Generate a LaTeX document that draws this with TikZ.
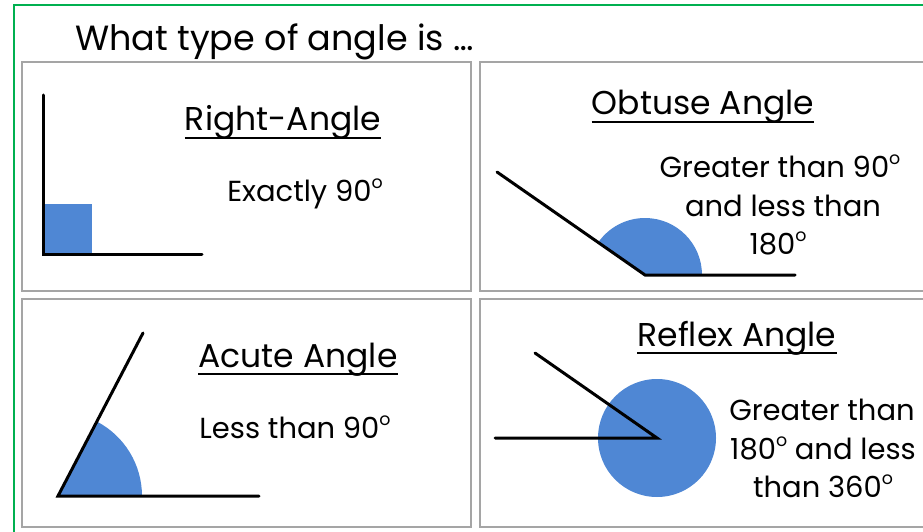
\documentclass[tikz,border=0pt]{standalone}
\usepackage{fontspec}
\setmainfont{Poppins}
\definecolor{angleblue}{RGB}{79,135,212}
\definecolor{framegreen}{RGB}{0,176,80}
\definecolor{panelgray}{RGB}{165,165,165}
\newcommand{\dg}{\raisebox{0.42em}{\scalebox{0.6}{o}}}
\tikzset{
	panel/.style={draw=panelgray, line width=1.5pt},
	arm/.style={line width=3pt, line cap=round},
	sector/.style={fill=angleblue},
	title/.style={anchor=base, inner sep=0pt, font=\fontsize{33}{38}\selectfont},
	label/.style={anchor=base, inner sep=0pt, font=\fontsize{29}{34}\selectfont},
	uline/.style={line width=2.8pt},
}
\begin{document}
\begin{tikzpicture}[x=1pt,y=-1pt]
	\useasboundingbox (0,0) rectangle (923,532) ;
	\begin{scope}
		\clip (0,0) rectangle (923,532) ;
		\draw[framegreen, line width=2.5pt] (14,5) rectangle (950,560) ;
		\draw[panel] (22,62) rectangle (471,291) ;
		\draw[panel] (480,62) rectangle (950,291) ;
		\draw[panel] (22,299) rectangle (471,527) ;
		\draw[panel] (480,299) rectangle (950,527) ;
	\end{scope}
	\node (q)[anchor=base west, inner sep=0pt, font=\fontsize{35}{40}\selectfont] at (75,51) {What type of angle is \dots} ;
	% right angle
		\coordinate (r0) at (43,95) ;
		\coordinate (rv) at (43,254) ;
		\coordinate (r1) at (202,254) ;
		\fill[sector] (rv) rectangle (92,204) ;
	\draw[arm] (r0) -- (rv) -- (r1) ;
		\node (rt)[title] at (283,131) {Right-Angle} ;
		\node (rl)[label] at (305,201) {Exactly 90\dg} ;
	% obtuse angle
		\coordinate (o0) at (497,172) ;
		\coordinate (ov) at (645,275) ;
		\coordinate (o1) at (795,275) ;
		\fill[sector] (ov) -- ++(57,0) arc[start angle=0, end angle=-145, radius=57] -- cycle ;
	\draw[arm] (o0) -- (ov) -- (o1) ;
		\node (ot)[title] at (703,115) {Obtuse Angle} ;
		\node (ol1)[label] at (780,177) {Greater than 90\dg} ;
		\node (ol2)[label] at (783,216) {and less than} ;
		\node (ol3)[label] at (778,254) {180\dg} ;
	% acute angle
		\coordinate (a0) at (143,333) ;
		\coordinate (av) at (58,496) ;
		\coordinate (a1) at (259,496) ;
		\fill[sector] (av) -- ++(84,0) arc[start angle=0, end angle=-62.5, radius=84] -- cycle ;
	\draw[arm] (a0) -- (av) -- (a1) ;
		\node (at)[title] at (298,367) {Acute Angle} ;
		\node (al)[label] at (295,438) {Less than 90\dg} ;
	% reflex angle
		\coordinate (x0) at (535,353) ;
		\coordinate (xv) at (657,438) ;
		\coordinate (x1) at (495,438) ;
		\fill[sector] (xv) circle[radius=59] ;
	\draw[arm] (x0) -- (xv) -- (x1) ;
		\node (xt)[title] at (737,346) {Reflex Angle} ;
		\node (xl1)[label] at (822,420) {Greater than} ;
		\node (xl2)[label] at (823,459) {180\dg{} and less} ;
		\node (xl3)[label] at (823,497) {than 360\dg} ;
	% underlines
	\foreach \t in {rt,ot,at,xt}
		\draw[uline] ([yshift=-7pt]\t.base west) -- ([yshift=-7pt]\t.base east) ;
\end{tikzpicture}
\end{document}
